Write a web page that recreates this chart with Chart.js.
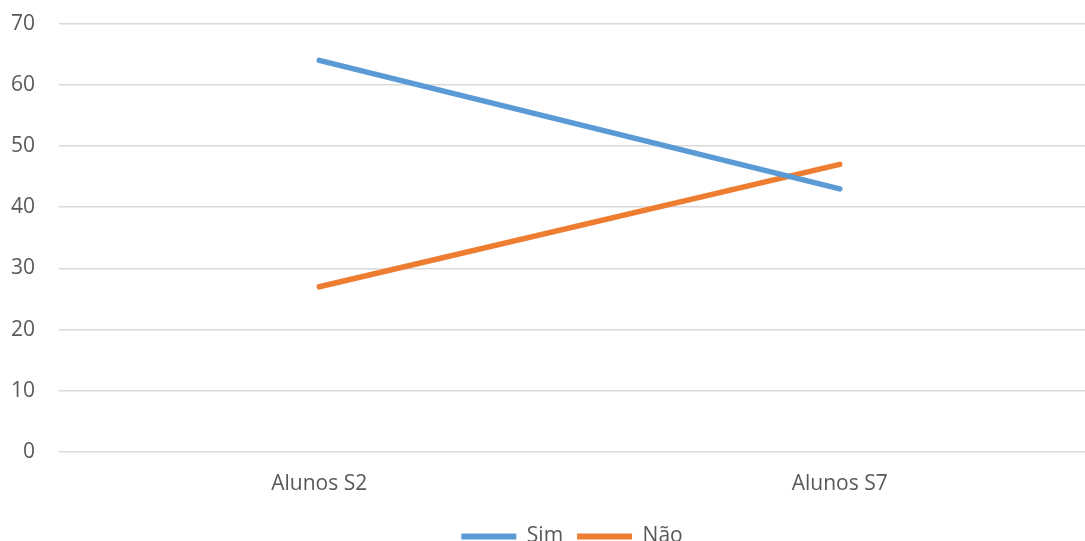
<!DOCTYPE html>
<html>
<head>
<meta charset="utf-8">
<script src="https://cdn.jsdelivr.net/npm/chart.js@4"></script>
<style>
html,body{margin:0;padding:0;background:#fff;overflow:hidden;width:1085px;height:541px;}
#wrap{position:absolute;left:0;top:-13px;width:1140px;height:570px;}
</style>
</head>
<body>
<div id="wrap"><canvas id="c" width="1140" height="570"></canvas></div>
<script>
const categories = ["Alunos S2", "Alunos S7"];
const simValues = [64, 43];
const naoValues = [27, 47];
const yTicks = [0, 10, 20, 30, 40, 50, 60, 70];

const FONT = "'Open Sans', 'Liberation Sans', sans-serif";
const TXT = "#595959";
const FS = 21;

const shiftLegend = {
  id: 'shiftLegend',
  afterLayout(chart) {
    const lg = chart.legend;
    if (lg) { lg.left += 22; lg.right += 22; }
  }
};

new Chart(document.getElementById('c'), {
  type: 'line',
  data: {
    labels: categories,
    datasets: [
      { label: 'Sim', data: simValues, borderColor: '#5B9BD5', backgroundColor: '#5B9BD5', borderWidth: 5.5, pointRadius: 0, borderCapStyle: 'round', tension: 0 },
      { label: 'Não', data: naoValues, borderColor: '#ED7D31', backgroundColor: '#ED7D31', borderWidth: 5.5, pointRadius: 0, borderCapStyle: 'round', tension: 0 }
    ]
  },
  plugins: [shiftLegend],
  options: {
    responsive: false,
    animation: false,
    layout: { padding: { left: 0, right: 40, top: 0, bottom: 0 } },
    plugins: {
      tooltip: { enabled: false },
      legend: {
        position: 'bottom',
        labels: {
          color: TXT,
          font: { family: FONT, size: FS },
          boxWidth: 55,
          boxHeight: 6,
          useBorderRadius: true,
          borderRadius: 3,
          padding: 14,
          generateLabels: (chart) => chart.data.datasets.map((d, i) => ({
            text: d.label, fillStyle: d.borderColor, strokeStyle: d.borderColor, lineWidth: 0, datasetIndex: i, fontColor: TXT
          }))
        }
      }
    },
    scales: {
      x: {
        offset: true,
        grid: { display: false, drawTicks: false },
        border: { display: false },
        ticks: { color: TXT, font: { family: FONT, size: FS }, padding: 19 },
        afterFit: (axis) => { axis.height = 60; }
      },
      y: {
        min: 0, max: 70,
        afterBuildTicks: (axis) => { axis.ticks = yTicks.map(v => ({ value: v })); },
        grid: { color: '#D9D9D9', lineWidth: 1.5, drawTicks: false },
        border: { display: false },
        ticks: { color: TXT, font: { family: FONT, size: FS }, padding: 24 },
        afterFit: (axis) => { axis.width = 59; }
      }
    }
  }
});
</script>
</body>
</html>
